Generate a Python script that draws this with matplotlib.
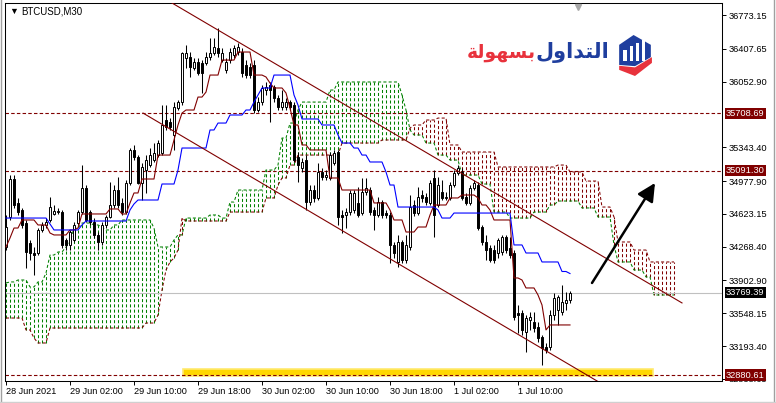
import numpy as np
import matplotlib
matplotlib.use("Agg")
import matplotlib.pyplot as plt
import matplotlib.transforms as mtransforms
from matplotlib.patches import Polygon, Rectangle
from matplotlib.lines import Line2D

plt.rcParams['font.family'] = ['Liberation Sans', 'DejaVu Sans']
plt.rcParams['lines.scale_dashes'] = False

# BTCUSD M30 candles, first bar 28 Jun 2021 18:00
opens = [34265, 34589, 35000, 34741, 34665, 34524, 34308, 34200, 34200, 34449,
         34503, 34557, 34622, 34643, 34643, 34341, 34287, 34341, 34524, 34643,
         34903, 34643, 34535, 34395, 34319, 34503, 34589, 34719, 34881, 34741,
         34643, 34957, 35314, 35238, 34957, 35097, 35151, 35205, 35259, 35281,
         35638, 35616, 35476, 35768, 35832, 36308, 36319, 36200, 36265, 36254,
         36254, 36319, 36362, 36416, 36286, 36178, 36286, 36340, 36373, 36373,
         36232, 36211, 36232, 35746, 35832, 35962, 36016, 35995, 35876, 35778,
         35778, 35832, 35800, 35238, 35119, 35205, 34752, 34881, 34795, 35076,
         35022, 35011, 35173, 35292, 34611, 34611, 34643, 34665, 34741, 34632,
         34860, 34881, 34665, 34611, 34752, 34632, 34611, 34287, 34103, 34319,
         34124, 34265, 34719, 34632, 34827, 34805, 34741, 35011, 34719, 34860,
         34795, 34795, 34935, 35065, 35076, 34805, 34741, 34903, 34935, 34481,
         34319, 34254, 34233, 34200, 34211, 34373, 34254, 34200, 33551, 33551,
         33346, 33476, 33454, 33400, 33292, 33184, 33184, 33530, 33584, 33562,
         33659, 33692]
highs = [34611, 35043, 35043, 34795, 34687, 34557, 34341, 34265, 34470, 34535,
         34578, 34805, 34719, 34687, 34665, 34362, 34449, 34535, 34665, 35151,
         34935, 34665, 34578, 34427, 34535, 34611, 34968, 34935, 35022, 34795,
         34989, 35335, 35368, 35259, 35173, 35259, 35335, 35389, 35422, 35800,
         35800, 35659, 35832, 35854, 36373, 36449, 36373, 36308, 36308, 36286,
         36373, 36524, 36524, 36632, 36416, 36308, 36416, 36449, 36470, 36416,
         36286, 36254, 36286, 35886, 36016, 36049, 36049, 36016, 35908, 35962,
         35876, 35854, 35832, 35292, 35227, 35259, 34935, 34935, 35173, 35119,
         35097, 35292, 35314, 35314, 34665, 34687, 34881, 34881, 34913, 35011,
         35011, 34913, 34697, 34805, 34773, 34665, 34643, 34319, 34395, 34341,
         34395, 34827, 34773, 34913, 34881, 34849, 34989, 35097, 35022, 34989,
         34860, 34968, 35097, 35151, 35119, 34849, 34935, 34989, 34968, 34503,
         34395, 34287, 34287, 34362, 34395, 34395, 34373, 34233, 33638, 33584,
         33530, 33562, 33562, 33454, 33314, 33227, 33584, 33767, 33746, 33854,
         33778, 33789]
lows = [34233, 34557, 34687, 34611, 34470, 34038, 34124, 33962, 34179, 34427,
        34470, 34535, 34611, 34622, 34254, 34233, 34233, 34319, 34503, 34622,
        34535, 34503, 34362, 34233, 34287, 34470, 34578, 34687, 34687, 34611,
        34622, 34935, 35205, 34946, 34773, 34849, 35130, 35184, 35238, 35259,
        35530, 35530, 35314, 35746, 35800, 36200, 36103, 36178, 36124, 35930,
        36232, 36286, 36340, 36319, 36265, 36146, 36254, 36308, 36340, 36103,
        36092, 36092, 35714, 35724, 35800, 35908, 35616, 35832, 35746, 35746,
        35746, 35746, 35184, 34968, 35076, 34665, 34719, 34752, 34773, 34989,
        34989, 34989, 35151, 34503, 34416, 34470, 34611, 34632, 34589, 34611,
        34827, 34611, 34449, 34589, 34578, 34578, 34092, 34146, 34049, 34092,
        34092, 34233, 34600, 34611, 34752, 34719, 34719, 34373, 34697, 34773,
        34773, 34773, 34913, 35043, 34773, 34719, 34719, 34881, 34449, 34287,
        34124, 34103, 34092, 34146, 34179, 34200, 34146, 33476, 33335, 33314,
        33130, 33367, 33346, 33238, 32989, 33119, 33151, 33476, 33422, 33530,
        33584, 33659]
closes = [34481, 35000, 34719, 34643, 34503, 34211, 34200, 34179, 34449, 34503,
          34535, 34697, 34654, 34654, 34287, 34287, 34427, 34503, 34643, 34903,
          34557, 34535, 34395, 34319, 34503, 34589, 34719, 34881, 34719, 34643,
          34957, 35314, 35238, 34957, 35130, 35205, 35259, 35281, 35389, 35584,
          35562, 35562, 35778, 35832, 36362, 36362, 36211, 36265, 36146, 36146,
          36319, 36362, 36427, 36362, 36362, 36265, 36373, 36416, 36427, 36146,
          36124, 36124, 35746, 35832, 35984, 35995, 35962, 35876, 35778, 35832,
          35832, 35778, 35205, 35151, 35184, 34752, 34881, 34795, 35076, 35022,
          35043, 35259, 35281, 34589, 34589, 34643, 34849, 34849, 34611, 34860,
          34903, 34643, 34611, 34752, 34611, 34611, 34287, 34200, 34319, 34124,
          34287, 34697, 34632, 34805, 34795, 34752, 34957, 34611, 34935, 34795,
          34805, 34935, 35065, 35119, 34795, 34741, 34903, 34957, 34470, 34319,
          34233, 34124, 34124, 34341, 34373, 34233, 34179, 33508, 33530, 33367,
          33497, 33508, 33389, 33281, 33173, 33151, 33530, 33714, 33724, 33670,
          33692, 33769.39]

# ichimoku lines as (level, number of bars it holds)
tenkan_vals = [34265, 34362, 34470, 34557, 34503, 34416, 34395, 34449, 34470, 34622,
               34676, 34622, 34741, 34849, 35000, 35259, 35422, 35584, 35713, 35746,
               35886, 35940, 36124, 36286, 36373, 36124, 36103, 36038, 35984, 35930,
               35768, 35584, 35368, 35314, 35011, 34881, 34741, 34665, 34557, 34427,
               34481, 34611, 34719, 34795, 34827, 34795, 34719, 34665, 34557, 33930,
               33908, 33822, 33746, 33638, 33368, 33422]
tenkan_runs = [1, 1, 2, 4, 3, 1, 4, 2, 1, 7,
               3, 2, 1, 2, 4, 4, 1, 1, 1, 3,
               2, 1, 3, 4, 4, 3, 1, 1, 3, 1,
               1, 2, 2, 5, 3, 8, 4, 1, 3, 3,
               3, 1, 4, 3, 4, 1, 2, 1, 5, 2,
               1, 3, 1, 1, 1, 6]
kijun_vals = [34578, 34514, 34449, 34503, 34546, 34665, 34730, 34773, 34946, 35097,
              35335, 35530, 35605, 35692, 35746, 35832, 35908, 35984, 36124, 35908,
              35800, 35649, 35584, 35476, 35389, 35335, 35259, 35184, 35076, 34935,
              34697, 34665, 34578, 34632, 34287, 34200, 34103, 34000, 33978]
kijun_runs = [11, 1, 7, 1, 11, 1, 1, 6, 4, 1,
              7, 2, 3, 4, 2, 1, 1, 3, 5, 1,
              1, 5, 4, 1, 3, 2, 2, 4, 1, 2,
              10, 1, 3, 15, 3, 4, 5, 2, 1]
span_a_vals = [33876, 33887, 33908, 33833, 33887, 33984, 34178, 34211, 34265, 34319,
               34470, 34524, 34503, 34481, 34449, 34503, 34557, 34470, 34265, 34341,
               34395, 34578, 34611, 34578, 34751, 34881, 35097, 35151, 35443, 35605,
               35746, 35832, 35962, 36049, 35908, 35746, 35530, 35476, 35389, 35259,
               35205, 35043, 34946, 34643, 34578, 34643, 34719, 34762, 34687, 34589,
               34287, 34103, 34016, 33941, 33746]
span_a_runs = [1, 2, 3, 2, 2, 1, 2, 2, 1, 1,
               2, 3, 2, 1, 2, 2, 8, 1, 4, 1,
               2, 6, 3, 2, 2, 7, 3, 1, 2, 2,
               1, 7, 2, 16, 1, 1, 1, 3, 3, 3,
               3, 5, 3, 4, 6, 4, 2, 6, 4, 4,
               1, 4, 3, 2, 6]
span_b_vals = [33497, 33368, 33281, 33227, 33389, 33443, 33530, 33800, 34016, 34103,
               34146, 34232, 34578, 34546, 34643, 34795, 34935, 35011, 35151, 35259,
               35389, 35422, 35551, 35584, 35638, 35659, 35368, 35292, 35130, 35151,
               35076, 34978, 34697, 34589, 34319, 34232, 34103]
span_b_runs = [5, 2, 1, 3, 24, 3, 1, 1, 1, 1,
               1, 1, 1, 11, 9, 3, 1, 2, 2, 11,
               10, 7, 1, 3, 3, 3, 3, 9, 15, 3,
               4, 4, 3, 1, 4, 4, 7]

levels = [35708.69, 35091.30, 32880.61]
last_price = 33769.39
price_ticks = [36773.15, 36407.65, 36052.90, 35343.40, 34977.90, 34623.15,
               34268.40, 33902.90, 33548.15, 33193.40, 32838.65]
time_ticks = [0, 16, 32, 48, 64, 80, 96, 112, 128]
time_labels = ["28 Jun 2021", "29 Jun 02:00", "29 Jun 10:00", "29 Jun 18:00",
               "30 Jun 02:00", "30 Jun 10:00", "30 Jun 18:00", "1 Jul 02:00",
               "1 Jul 10:00"]

# drawn objects (bar index, price)
upper_channel = [(41.5, 36903), (169, 33660)]
lower_channel = [(34.25, 35713), (150, 32759)]
support_zone = (44.25, 161.75, 32870, 32946)
arrow_from = (146.5, 33876)
arrow_to = (162.25, 34957)
shift_bar = 143

maroon = '#800000'
green = '#008000'
dots = (0, (2.2, 1.6))

fig = plt.figure(figsize=(7.76, 4.03), dpi=100)
ax = fig.add_axes([5 / 776, 22 / 403, 717 / 776, 378 / 403])

# cloud
a = np.repeat(span_a_vals, span_a_runs)
b = np.repeat(span_b_vals, span_b_runs)
ci = np.arange(len(a))
cols = np.where(a >= b, green, maroon)
ax.vlines(ci, np.minimum(a, b), np.maximum(a, b), colors=cols, linestyles=dots, lw=0.75, zorder=1)
ax.plot(ci, a, color=green, ls=dots, lw=0.75, zorder=1)
ax.plot(ci, b, color=maroon, ls=dots, lw=0.75, zorder=1)

# support zone
x0, x1, lo, hi = support_zone
ax.add_patch(Rectangle((x0, lo), x1 - x0, hi - lo, fc='#FFD700', ec='#FFEA70', lw=1.2, zorder=1.5))

ax.axhline(last_price, color='#C0C0C0', lw=0.8, zorder=1.6)
for lv in levels:
    ax.axhline(lv, color=maroon, ls=(0, (2.5, 1.6)), lw=0.8, zorder=2)

# candles
o = np.array(opens, dtype=float)
c = np.array(closes, dtype=float)
idx = np.arange(len(o))
up = c >= o
ax.vlines(idx, lows, highs, color='black', lw=0.75, zorder=3)
ax.bar(idx[up], np.maximum(c[up] - o[up], 8), bottom=o[up], width=0.55,
       color='white', edgecolor='black', lw=0.7, zorder=4)
ax.bar(idx[~up], np.minimum(c[~up] - o[~up], -8), bottom=o[~up], width=0.55,
       color='black', edgecolor='black', lw=0.7, zorder=4)

ax.plot(idx, np.repeat(tenkan_vals, tenkan_runs), color=maroon, lw=0.8, zorder=5)
ax.plot(idx, np.repeat(kijun_vals, kijun_runs), color='#0000FF', lw=0.8, zorder=5)

for line in (upper_channel, lower_channel):
    ax.plot([line[0][0], line[1][0]], [line[0][1], line[1][1]], color=maroon, lw=0.8, zorder=5)

ax.annotate('', xy=arrow_to, xytext=arrow_from,
            arrowprops=dict(arrowstyle='-|>,head_length=0.9,head_width=0.45', color='black',
                            lw=1.8, shrinkA=0, shrinkB=0, mutation_scale=12), zorder=6)

ax.set_xlim(-0.25, 179)
ax.set_ylim(32816, 36903)
for s in ax.spines.values():
    s.set_linewidth(0.75)

ax.yaxis.tick_right()
ax.set_yticks(price_ticks)
ax.set_yticklabels([f"{t:.2f}" for t in price_ticks])
ax.tick_params(axis='y', direction='out', length=3, width=0.7, labelsize=6.7, pad=2)
ax.set_xticks(time_ticks)
ax.set_xticklabels(time_labels, ha='left')
ax.tick_params(axis='x', direction='out', length=3, width=0.7, labelsize=6.6, pad=1.5)

trans = mtransforms.blended_transform_factory(ax.transAxes, ax.transData)
for lv in levels:
    ax.annotate(f"{lv:.2f}", xy=(1, lv), xycoords=trans, xytext=(4, 0), textcoords='offset pixels',
                ha='left', va='center', color='white', fontsize=6.7, annotation_clip=False,
                bbox=dict(boxstyle='square,pad=0.12', fc=maroon, ec='none'), zorder=10)
ax.annotate(f"{last_price:.2f}", xy=(1, last_price), xycoords=trans, xytext=(4, 0),
            textcoords='offset pixels', ha='left', va='center', color='white', fontsize=6.7,
            annotation_clip=False, bbox=dict(boxstyle='square,pad=0.12', fc='black', ec='none'),
            zorder=10)

# chart shift marker
ax.plot([shift_bar], [0.99], transform=mtransforms.blended_transform_factory(ax.transData, ax.transAxes),
        marker='v', ms=5, color='#A8A8A8', clip_on=False, zorder=10)

fig.text(9 / 776, 1 - 11 / 403, "\u25BC", fontsize=6.5, va='center', ha='left')
fig.text(21 / 776, 1 - 11 / 403, "BTCUSD,M30", fontsize=7, va='center', ha='left')

# logo: "التداول بسهولة" written with arabic presentation forms in visual order
red_word = "\uFE94\uFEDF\uFEEE\uFEEC\uFEB4\uFE91"
blue_word = "\uFEDD\uFEED\uFE8D\uFEAA\uFE98\uFEDF\uFE8D"
fig.text(536 / 776, 1 - 58 / 403, red_word, fontsize=13.5, fontweight='bold', color='#E8323C',
         ha='right', va='baseline', family=['DejaVu Sans'])
fig.text(609 / 776, 1 - 58 / 403, blue_word, fontsize=15, fontweight='bold', color='#1F3E9E',
         ha='right', va='baseline', family=['DejaVu Sans'])

icon = fig.add_axes([617 / 776, 1 - 76 / 403, 36 / 776, 41 / 403])
icon.set_xlim(0, 1)
icon.set_ylim(0, 1)
icon.axis('off')
icon.add_patch(Polygon([(0.06, 0.76), (0.46, 1.0), (0.94, 0.76), (0.94, 0.46), (0.5, 0.24), (0.06, 0.27)],
                       closed=True, fc='#1F3E9E', ec='none'))
icon.add_patch(Polygon([(0.06, 0.25), (0.5, 0.21), (0.97, 0.46), (0.97, 0.32), (0.5, 0.0), (0.06, 0.15)],
                       closed=True, fc='#E8323C', ec='none'))
for k, h in enumerate([0.28, 0.36, 0.44, 0.52]):
    icon.add_patch(Rectangle((0.18 + k * 0.17, 0.36), 0.09, h, fc='white', ec='none'))

# window border
fig.add_artist(Line2D([1 / 776, 1 / 776], [0, 1], color='#A0A0A0', lw=1))
fig.add_artist(Line2D([773.5 / 776, 773.5 / 776], [0, 1], color='#A0A0A0', lw=1))
fig.add_artist(Line2D([0, 1], [1.5 / 403, 1.5 / 403], color='#D0D0D0', lw=1))

fig.savefig("out.png", dpi=100)
